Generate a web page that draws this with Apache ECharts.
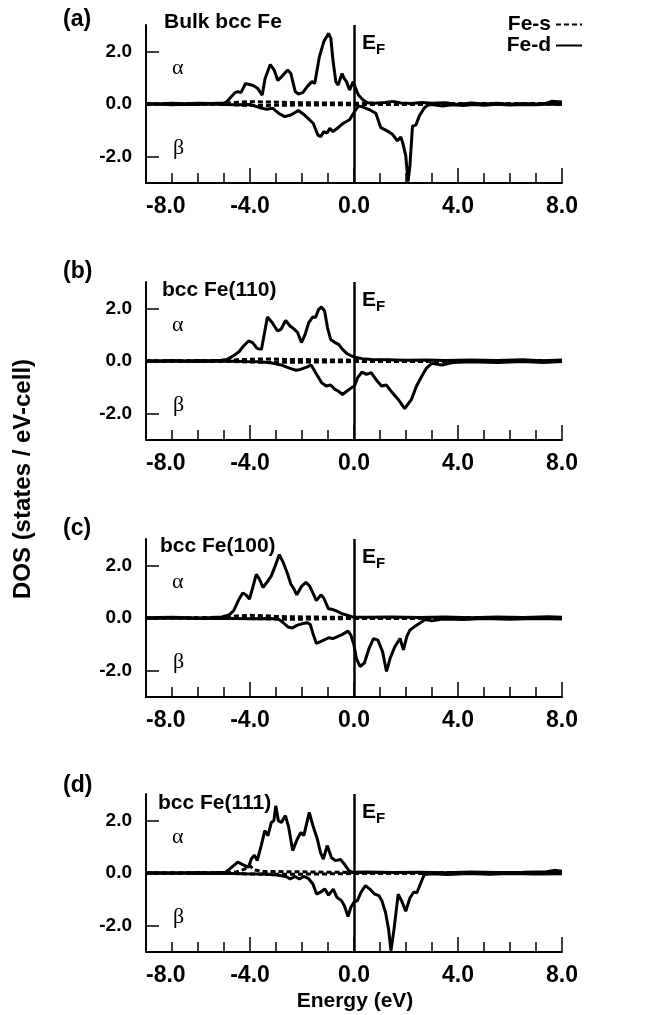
<!DOCTYPE html>
<html lang="en">
  <head>
    <meta charset="UTF-8" />
    <title>Fe DOS</title>
    <script src="https://cdn.jsdelivr.net/npm/echarts@6.0.0/dist/echarts.min.js"></script>
    <style>
      html, body { margin: 0; padding: 0; background: #fff; }
      #main { width: 649px; height: 1015px; }
    </style>
  </head>
  <body>
    <div id="main"></div>
    <script type="text/javascript">
      // tick labels
      var yTicks = [-2, 0, 2];
      var panelTags = ["(a)", "(b)", "(c)", "(d)"];
      var panelNames = ["Bulk bcc Fe", "bcc Fe(110)", "bcc Fe(100)", "bcc Fe(111)"];

      // (a) bulk bcc Fe
      var aDup = [[-8,0.02],[-7.5,0],[-7,0.03],[-6.5,0.01],[-6,0.03],[-5.5,0.02],[-5,0.04],[-4.9,0.08],[-4.75,0.25],[-4.58,0.43],[-4.46,0.47],[-4.35,0.43],[-4.17,0.78],[-4.06,0.75],[-3.88,0.7],[-3.71,0.6],[-3.53,0.34],[-3.42,0.97],[-3.22,1.5],[-3.07,1.29],[-2.93,0.89],[-2.78,1.04],[-2.55,1.29],[-2.43,1.16],[-2.26,0.47],[-2.14,0.38],[-1.97,0.43],[-1.8,0.66],[-1.62,0.85],[-1.51,0.78],[-1.33,1.8],[-1.16,2.37],[-0.98,2.68],[-0.89,2.49],[-0.81,1.67],[-0.7,0.85],[-0.61,0.72],[-0.46,1.16],[-0.38,0.97],[-0.29,0.85],[-0.17,0.53],[-0.03,0.85],[0.06,0.6],[0.17,0.34],[0.35,0.15],[0.52,0.05],[0.8,0.03],[1.2,0.06],[1.5,0.1],[1.8,0.04],[2.2,0.02],[2.6,0.06],[3,0.03],[3.5,0.05],[4,-0.02],[4.5,0.04],[5,0],[5.5,0.03],[6,-0.01],[6.5,0.02],[7,0],[7.4,0.03],[7.6,0.1],[8,0.08]];
      var aDdn = [[-8,-0.02],[-7.5,0],[-7,-0.03],[-6.5,-0.01],[-6,-0.02],[-5.5,0],[-5,-0.02],[-4.5,-0.03],[-4,-0.02],[-3.65,-0.13],[-3.36,-0.2],[-3.13,-0.16],[-2.9,-0.35],[-2.67,-0.48],[-2.43,-0.42],[-2.14,-0.25],[-1.9,-0.42],[-1.57,-0.73],[-1.39,-1.18],[-1.28,-1.24],[-1.16,-1.05],[-1.04,-1.11],[-0.93,-0.92],[-0.81,-1.05],[-0.64,-0.92],[-0.41,-0.73],[-0.17,-0.6],[-0.06,-0.42],[0.06,-0.23],[0.17,-0.08],[0.3,-0.1],[0.58,-0.21],[0.84,-0.35],[1.03,-0.9],[1.29,-1.03],[1.48,-1.15],[1.67,-1.4],[1.8,-1.25],[1.87,-1.46],[1.99,-1.96],[2.08,-2.95],[2.15,-2.35],[2.25,-0.84],[2.38,-0.8],[2.51,-0.46],[2.7,-0.15],[2.83,-0.05],[3,-0.02],[3.4,-0.08],[3.8,-0.03],[4.2,-0.06],[4.6,-0.02],[5,-0.05],[5.5,-0.01],[6,-0.04],[6.5,-0.02],[7,-0.03],[7.5,0],[8,-0.02]];
      var aSup = [[-8,0],[-5,0.01],[-4.6,0.06],[-4,0.09],[-3,0.07],[-2,0.05],[-1,0.04],[0,0.03],[1,0.02],[3,0.02],[8,0.02]];
      var aSdn = [[-8,0],[-5,-0.01],[-4,-0.06],[-3,-0.05],[-1,-0.03],[1,-0.02],[8,-0.01]];

      // (b) bcc Fe(110)
      var bDup = [[-8,0.02],[-7.5,0],[-7,0.02],[-6.5,0],[-6,0.02],[-5.5,0.01],[-5.1,0.03],[-4.88,0.06],[-4.65,0.19],[-4.42,0.35],[-4.25,0.57],[-4.05,0.76],[-3.9,0.7],[-3.73,0.48],[-3.56,0.44],[-3.44,1.08],[-3.33,1.67],[-3.15,1.46],[-2.94,1.14],[-2.81,1.2],[-2.63,1.54],[-2.46,1.33],[-2.29,1.2],[-2.17,1.08],[-2.02,0.7],[-1.88,1.01],[-1.74,1.46],[-1.59,1.67],[-1.48,1.65],[-1.36,1.96],[-1.25,2.05],[-1.13,1.9],[-1.02,1.27],[-0.9,0.82],[-0.73,0.7],[-0.59,0.63],[-0.44,0.44],[-0.27,0.28],[-0.09,0.19],[0.08,0.13],[0.31,0.09],[0.66,0.06],[1.24,0.05],[2,0.03],[2.8,0.04],[3.5,0.02],[4.5,0.04],[5.5,0.02],[6.5,0.05],[7.2,0.01],[8,0.04]];
      var bDdn = [[-8,-0.02],[-7,0],[-6,-0.02],[-5,0],[-4.2,-0.02],[-3.61,-0.03],[-3.15,-0.08],[-2.81,-0.15],[-2.46,-0.28],[-2.23,-0.35],[-2.06,-0.32],[-1.82,-0.23],[-1.65,-0.15],[-1.48,-0.44],[-1.25,-0.82],[-1.07,-0.95],[-0.9,-0.91],[-0.73,-1.08],[-0.61,-1.14],[-0.44,-1.27],[-0.27,-1.14],[-0.09,-1.01],[0.02,-0.95],[0.14,-0.63],[0.31,-0.42],[0.48,-0.51],[0.66,-0.44],[0.89,-0.76],[1.06,-0.95],[1.24,-0.91],[1.47,-1.2],[1.7,-1.46],[1.95,-1.81],[2.21,-1.46],[2.4,-0.96],[2.6,-0.59],[2.79,-0.27],[2.99,-0.09],[3.38,-0.15],[3.8,-0.06],[4.5,-0.03],[5.5,-0.06],[6.5,-0.02],[7.3,-0.06],[8,-0.02]];
      var bSup = [[-8,0],[-5,0.01],[-4.5,0.05],[-3.5,0.08],[-2.5,0.06],[-1.5,0.05],[0,0.03],[2,0.02],[8,0.02]];
      var bSdn = [[-8,0],[-5,-0.01],[-4,-0.04],[-3,-0.05],[-1.5,-0.04],[0,-0.02],[8,-0.01]];

      // (c) bcc Fe(100)
      var cDup = [[-8,0.01],[-7,0.03],[-6,0],[-5.5,0.02],[-5.09,0.04],[-4.8,0.12],[-4.62,0.29],[-4.45,0.66],[-4.28,0.95],[-4.16,0.88],[-4.02,0.72],[-3.91,1.1],[-3.76,1.66],[-3.64,1.48],[-3.5,1.16],[-3.35,1.35],[-3.18,1.6],[-3.03,1.98],[-2.87,2.41],[-2.72,2.1],[-2.57,1.72],[-2.43,1.29],[-2.31,1.1],[-2.2,0.88],[-2.02,1.2],[-1.85,1.35],[-1.71,1.22],[-1.56,0.91],[-1.45,0.66],[-1.27,0.88],[-1.16,0.75],[-0.98,0.35],[-0.81,0.32],[-0.64,0.25],[-0.46,0.16],[-0.23,0.1],[-0.06,0.04],[0.5,0.03],[1.5,0.04],[2.5,0.02],[3.5,0.04],[4.5,0.01],[5.5,0.04],[6.5,0.02],[7.5,0.05],[8,0.03]];
      var cDdn = [[-8,-0.02],[-7,0],[-6,-0.02],[-5,-0.01],[-4,-0.03],[-3.2,-0.02],[-2.89,-0.05],[-2.72,-0.18],[-2.54,-0.34],[-2.37,-0.38],[-2.2,-0.28],[-1.97,-0.21],[-1.79,-0.18],[-1.68,-0.25],[-1.56,-0.65],[-1.45,-0.96],[-1.29,-0.9],[-1.16,-0.84],[-0.98,-0.75],[-0.81,-0.78],[-0.64,-0.71],[-0.46,-0.63],[-0.23,-0.5],[-0.12,-0.65],[0,-1.03],[0.09,-1.53],[0.23,-1.84],[0.4,-1.71],[0.58,-1.15],[0.75,-0.78],[0.92,-0.84],[1.1,-1.28],[1.25,-2.03],[1.39,-1.53],[1.57,-1.09],[1.77,-0.78],[1.9,-1.21],[2.03,-0.71],[2.15,-0.46],[2.35,-0.31],[2.54,-0.19],[2.74,-0.06],[3,-0.11],[3.4,-0.04],[4.2,-0.06],[5,-0.02],[6,-0.05],[7,-0.02],[8,-0.04]];
      var cSup = [[-8,0],[-5,0.02],[-4.5,0.08],[-4,0.1],[-3.5,0.09],[-3,0.06],[-2,0.04],[0,0.02],[8,0.02]];
      var cSdn = [[-8,0],[-5,-0.01],[-3.5,-0.03],[-2.5,-0.05],[-1,-0.03],[0,-0.02],[8,-0.01]];

      // (d) bcc Fe(111)
      var dDup = [[-8,0.02],[-7,0],[-6,0.02],[-5.5,0.01],[-4.93,0.03],[-4.7,0.22],[-4.47,0.41],[-4.24,0.3],[-4.06,0.22],[-3.95,0.53],[-3.83,0.68],[-3.72,0.47],[-3.57,1.04],[-3.43,1.61],[-3.31,1.42],[-3.18,1.92],[-3.08,1.99],[-3.01,2.55],[-2.91,1.99],[-2.79,1.92],[-2.64,2.18],[-2.51,1.73],[-2.36,0.85],[-2.18,1.29],[-2.04,1.54],[-1.93,1.42],[-1.72,2.3],[-1.58,1.8],[-1.41,1.29],[-1.29,0.78],[-1.18,0.53],[-1.03,1.04],[-0.87,0.59],[-0.72,0.47],[-0.52,0.51],[-0.37,0.34],[-0.2,0.09],[-0.08,0.03],[0.5,0.04],[1.5,0.02],[2.5,0.03],[3.5,0.01],[4.5,0.04],[5.5,0.02],[6.5,0.03],[7.4,0.05],[7.7,0.1],[8,0.07]];
      var dDdn = [[-8,-0.02],[-7,0],[-6,-0.02],[-5,-0.01],[-4.2,-0.03],[-3.55,-0.04],[-2.97,-0.08],[-2.62,-0.13],[-2.45,-0.23],[-2.27,-0.13],[-2.1,-0.23],[-1.93,-0.13],[-1.76,-0.2],[-1.58,-0.42],[-1.44,-0.8],[-1.29,-0.73],[-1.12,-0.61],[-0.98,-0.84],[-0.8,-0.61],[-0.66,-0.92],[-0.48,-1.05],[-0.37,-1.24],[-0.23,-1.65],[-0.12,-1.3],[0,-1.11],[0.13,-1.05],[0.27,-0.73],[0.44,-0.48],[0.61,-0.61],[0.79,-0.8],[0.96,-0.86],[1.07,-1.05],[1.21,-1.49],[1.33,-2.13],[1.42,-2.95],[1.54,-2.13],[1.7,-0.8],[1.85,-1.1],[1.99,-1.45],[2.15,-0.95],[2.3,-0.72],[2.42,-0.75],[2.58,-0.35],[2.7,-0.06],[3,-0.03],[3.6,-0.06],[4.4,-0.02],[5.2,-0.05],[6,-0.02],[7,-0.04],[8,-0.03]];
      var dSup = [[-8,0],[-5,0.01],[-4.5,0.05],[-4.2,0.15],[-4,0.28],[-3.85,0.12],[-3.5,0.06],[-2.5,0.05],[-1,0.03],[0,0.02],[8,0.02]];
      var dSdn = [[-8,0],[-5,-0.01],[-4,-0.04],[-3,-0.05],[-1.5,-0.04],[0,-0.02],[8,-0.01]];

      var curves = [
        [aSup, aSdn, aDup, aDdn],
        [bSup, bSdn, bDup, bDdn],
        [cSup, cSdn, cDup, cDdn],
        [dSup, dSdn, dDup, dDdn]
      ];

      // layout
      var gridTops = [25, 282, 539, 794];
      var tagY = [20, 272, 529, 786];
      var nameY = [22, 290, 546, 803];
      var nameX = [164, 162, 160, 158];
      var FONT = '"Liberation Sans", Arial, sans-serif';

      function txt(str, x, y, size, opts) {
        opts = opts || {};
        return {
          type: "text",
          x: x,
          y: y,
          rotation: opts.rotation || 0,
          silent: true,
          style: {
            text: str,
            fill: "#000",
            font: (opts.weight || "bold") + " " + size + "px " + (opts.family || FONT),
            align: opts.align || "left",
            verticalAlign: "middle"
          }
        };
      }

      function fmt(v) { return Number(v).toFixed(1); }

      function buildOption(xFont) {
        var grids = [], xAxes = [], yAxes = [], series = [], graphics = [];
        var names = ["Fe-s", "Fe-s", "Fe-d", "Fe-d"];

        for (var i = 0; i < 4; i++) {
          var top = gridTops[i];
          grids.push({ left: 146, width: 416, top: top, height: 158, outerBoundsMode: "none" });
          xAxes.push({
            type: "value",
            gridIndex: i,
            min: -8,
            max: 8,
            interval: 4,
            axisLine: { onZero: false, lineStyle: { color: "#000", width: 2 } },
            axisTick: { inside: true, length: 15, lineStyle: { color: "#000", width: 1.5 } },
            minorTick: { show: true, splitNumber: 4, length: 10, lineStyle: { color: "#000", width: 1.5 } },
            splitLine: { show: false },
            axisLabel: {
              color: "#000", fontSize: xFont, fontWeight: "bold", fontFamily: FONT,
              margin: 12, alignMinLabel: "left", formatter: fmt
            }
          });
          yAxes.push({
            type: "value",
            gridIndex: i,
            min: -3,
            max: 3,
            axisLine: { onZero: false, lineStyle: { color: "#000", width: 2 } },
            axisTick: { inside: true, length: 13, customValues: yTicks, lineStyle: { color: "#000", width: 1.5 } },
            splitLine: { show: false },
            axisLabel: {
              color: "#000", fontSize: 19, fontWeight: "bold", fontFamily: FONT,
              margin: 14, customValues: yTicks, formatter: fmt
            }
          });

          var c = curves[i];
          for (var k = 0; k < 4; k++) {
            var s = {
              name: names[k],
              type: "line",
              xAxisIndex: i,
              yAxisIndex: i,
              data: c[k],
              symbol: "none",
              itemStyle: { color: "#000" },
              lineStyle: { color: "#000", width: 3, type: k < 2 ? [5, 3] : "solid" },
              z: k < 2 ? 3 : 2
            };
            // Fermi level
            if (k === 3) {
              s.markLine = {
                silent: true,
                symbol: ["none", "none"],
                label: { show: false },
                lineStyle: { color: "#000", width: 2.5, type: "solid" },
                data: [{ xAxis: 0 }]
              };
            }
            series.push(s);
          }

          graphics.push(txt(panelTags[i], 63, tagY[i], 23));
          graphics.push(txt(panelNames[i], nameX[i], nameY[i], 21));
          graphics.push(txt("E", 362, top + 18, 21));
          graphics.push(txt("F", 376, top + 25, 15));
          graphics.push(txt("\u03b1", 172, top + 43, 22, { weight: "normal", family: '"Liberation Serif", serif' }));
          graphics.push(txt("\u03b2", 173, top + 123, 22, { weight: "normal", family: '"Liberation Serif", serif' }));
        }

        graphics.push(txt("DOS (states / eV-cell)", 23, 479, 24, { rotation: Math.PI / 2, align: "center" }));
        graphics.push(txt("Energy (eV)", 355, 1001, 21, { align: "center" }));

        return {
          animation: false,
          backgroundColor: "#fff",
          legend: {
            data: ["Fe-s", "Fe-d"],
            orient: "vertical",
            right: 61,
            top: 9,
            align: "right",
            itemWidth: 26,
            itemHeight: 14,
            itemGap: 0,
            itemStyle: { opacity: 0 },
            textStyle: { color: "#000", fontSize: 21, fontWeight: "bold", fontFamily: FONT }
          },
          grid: grids,
          xAxis: xAxes,
          yAxis: yAxes,
          series: series,
          graphic: graphics
        };
      }

      var el = document.getElementById("main");
      var myChart = echarts.init(el);
      try {
        myChart.setOption(buildOption(23));
      } catch (e) {
        // bigger x labels have tripped the label layout before; step down
        myChart.dispose();
        myChart = echarts.init(el);
        myChart.setOption(buildOption(22));
      }
    </script>
  </body>
</html>
